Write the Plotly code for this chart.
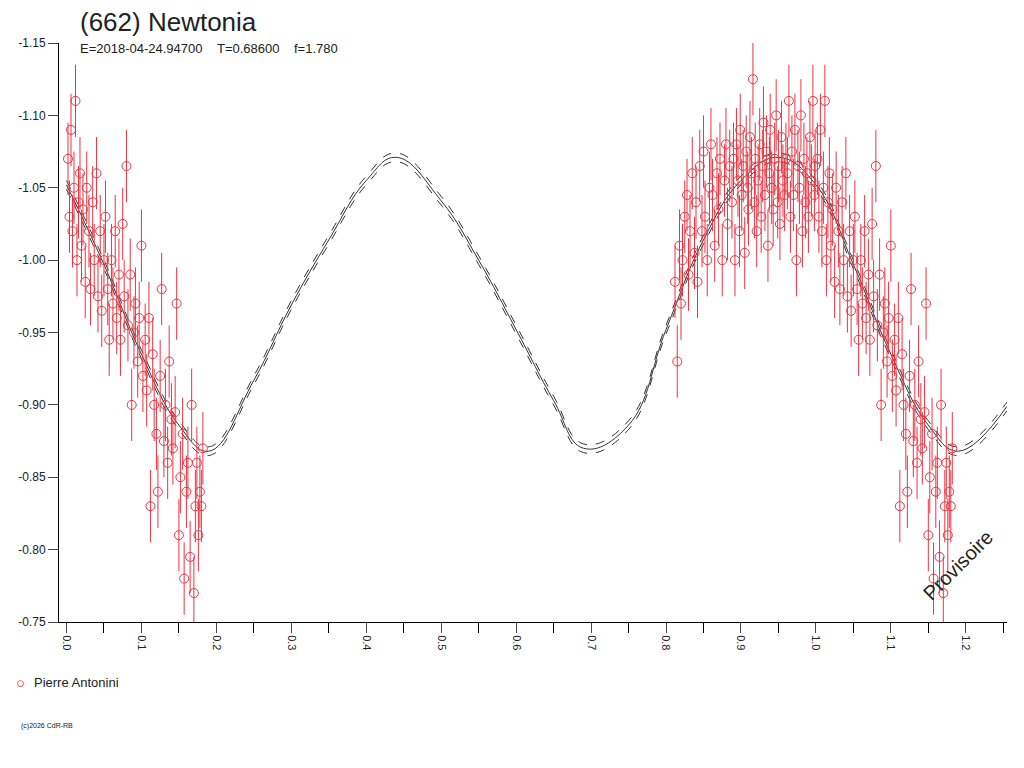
import plotly.graph_objects as go

# Fitted curve samples (phase, mag)
curve_phase = [0.0,0.05,0.1,0.15,0.19,0.25,0.3,0.35,0.4,0.44,0.5,0.55,0.6,0.65,0.69,0.75,0.8,0.85,0.9,0.95,1.0,1.05,1.1,1.15,1.19,1.255]
curve_mag = [-1.052,-0.997,-0.935,-0.886,-0.868,-0.917,-0.969,-1.014,-1.055,-1.071,-1.041,-1.0,-0.952,-0.903,-0.870,-0.886,-0.952,-1.014,-1.055,-1.071,-1.052,-0.997,-0.935,-0.886,-0.868,-0.899]
envelope = 0.003

# Observations (phase, mag)
obs_a_phase = [0.812,0.815,0.818,0.82,0.822,0.825,0.828,0.83,0.832,0.835,0.838,0.84,0.842,0.845,0.848,0.85,0.852,0.855,0.858,0.86,0.862,0.865,0.868,0.87,0.872,0.875,0.878,0.88,0.882,0.885]
obs_a_mag = [-0.985,-0.93,-1.01,-0.97,-1.0,-1.03,-1.045,-0.99,-1.02,-1.06,-1.005,-1.04,-0.985,-1.065,-1.02,-1.075,-1.03,-1.0,-1.05,-1.08,-1.045,-1.01,-1.06,-1.035,-1.07,-1.0,-1.055,-1.08,-1.025,-1.065]
obs_b_phase = [0.888,0.89,0.892,0.894,0.896,0.898,0.899,0.901,0.903,0.905,0.907,0.909,0.91,0.912,0.914,0.916,0.918,0.919,0.921,0.923,0.925,0.927,0.929,0.93,0.932,0.934,0.936,0.938,0.939,0.941,0.943,0.945,0.947,0.949,0.95,0.952,0.954,0.956,0.958,0.96]
obs_b_mag = [-1.04,-1.07,-1.0,-1.08,-1.055,-1.02,-1.09,-1.045,-1.065,-1.005,-1.075,-1.05,-1.035,-1.085,-1.06,-1.125,-1.04,-1.07,-1.02,-1.055,-1.08,-1.03,-1.065,-1.095,-1.045,-1.075,-1.01,-1.06,-1.09,-1.05,-1.035,-1.07,-1.1,-1.04,-1.065,-1.025,-1.085,-1.055,-1.045,-1.07]
obs_c_phase = [0.962,0.964,0.966,0.968,0.970,0.972,0.974,0.976,0.978,0.980,0.982,0.984,0.986,0.988,0.990,0.992,0.994,0.996,0.998,0.999]
obs_c_mag = [-1.06,-1.11,-1.03,-1.075,-1.045,-1.09,-1.0,-1.065,-1.05,-1.1,-1.02,-1.07,-1.04,-1.06,-1.03,-1.085,-1.055,-1.11,-1.045,-1.065]
# points just after phase 0 (drawn at phase and phase+1)
obs_d_phase = [0.002,0.004,0.006,0.008,0.010,0.012,0.014,0.016,0.018,0.020,0.022,0.025,0.027,0.030,0.032,0.035,0.037,0.040,0.042,0.045,0.047,0.050,0.052,0.055,0.057,0.060,0.062,0.065,0.067,0.070,0.072,0.075,0.077,0.080,0.082,0.085,0.087,0.090,0.092,0.095,0.097,0.100,0.102,0.105,0.107,0.110,0.112,0.115,0.117,0.120,0.122,0.125,0.127,0.130,0.132,0.135,0.137,0.140,0.142,0.145,0.147,0.150,0.152,0.155,0.157,0.160,0.162,0.165,0.167,0.170,0.172,0.174,0.176,0.178,0.180,0.182]
obs_d_mag = [-1.07,-1.03,-1.09,-1.02,-1.05,-1.11,-1.0,-1.04,-1.06,-1.01,-1.035,-0.985,-1.05,-1.02,-0.98,-1.04,-1.0,-1.06,-0.975,-1.02,-0.965,-1.0,-1.03,-0.98,-0.945,-1.0,-0.97,-1.02,-0.96,-0.99,-0.945,-1.025,-0.975,-1.065,-0.955,-0.99,-0.9,-0.95,-0.97,-0.93,-0.96,-1.01,-0.92,-0.945,-0.91,-0.96,-0.83,-0.935,-0.9,-0.88,-0.84,-0.92,-0.98,-0.875,-0.9,-0.86,-0.93,-0.89,-0.87,-0.895,-0.97,-0.81,-0.85,-0.88,-0.78,-0.84,-0.86,-0.795,-0.9,-0.77,-0.83,-0.86,-0.81,-0.84,-0.83,-0.87]
obs_err = 0.025
observer = "Pierre Antonini"

red = "#EE3340"
xs = obs_d_phase + obs_a_phase + obs_b_phase + obs_c_phase + [p + 1 for p in obs_d_phase]
ys = obs_d_mag + obs_a_mag + obs_b_mag + obs_c_mag + obs_d_mag

fig = go.Figure()
for off, dash in [(0, "solid"), (envelope, "dash"), (-envelope, "dash")]:
    fig.add_trace(go.Scatter(x=curve_phase, y=[m + off for m in curve_mag], mode="lines",
                             line=dict(color="#333333", width=1, dash=dash, shape="spline", smoothing=1.2),
                             showlegend=False, hoverinfo="skip"))
fig.add_trace(go.Scatter(x=xs, y=ys, mode="markers", name=observer, showlegend=False,
                         marker=dict(symbol="circle-open", size=9, color=red, line=dict(width=1)),
                         error_y=dict(type="constant", value=obs_err, color=red, thickness=1, width=0)))

fig.update_layout(
    width=1024, height=768, paper_bgcolor="white", plot_bgcolor="white",
    margin=dict(l=51, r=25, t=35, b=154),
    font=dict(family="Liberation Sans, Arial", color="#222222"),
    showlegend=False,
)
fig.update_xaxes(range=[-0.01, 1.255], showgrid=False, zeroline=False, showline=True, linecolor="black", automargin=False,
                 tickmode="array", tickvals=[0,0.1,0.2,0.3,0.4,0.5,0.6,0.7,0.8,0.9,1.0,1.1,1.2],
                 ticktext=["0.0","0.1","0.2","0.3","0.4","0.5","0.6","0.7","0.8","0.9","1.0","1.1","1.2"],
                 ticks="outside", ticklen=10, tickangle=90, tickfont=dict(size=11),
                 minor=dict(dtick=0.05, tick0=0.05, ticks="outside", ticklen=10, tickcolor="black"))
fig.update_yaxes(range=[-0.75, -1.15], showgrid=False, zeroline=False, showline=True, linecolor="black", automargin=False,
                 tickvals=[-1.15,-1.10,-1.05,-1.00,-0.95,-0.90,-0.85,-0.80,-0.75],
                 ticktext=["-1.15","-1.10","-1.05","-1.00","-0.95","-0.90","-0.85","-0.80","-0.75"],
                 ticks="outside", ticklen=10, tickfont=dict(size=12))
fig.add_annotation(xref="paper", yref="paper", x=0.02, y=1.0, yshift=4, text="(662) Newtonia", showarrow=False,
                   xanchor="left", yanchor="bottom", font=dict(size=26))
fig.add_annotation(xref="paper", yref="paper", x=0.02, y=1.0, yshift=-5, showarrow=False, xanchor="left", yanchor="middle",
                   text="E=2018-04-24.94700&nbsp;&nbsp;&nbsp;&nbsp;T=0.68600&nbsp;&nbsp;&nbsp;&nbsp;f=1.780", font=dict(size=13))
fig.add_annotation(xref="paper", yref="paper", x=0.993, y=0.025, text="Provisoire", textangle=-45, showarrow=False,
                   font=dict(size=20))
# legend drawn as text
fig.add_annotation(xref="paper", yref="paper", x=-0.041, y=-0.105, text="○", showarrow=False,
                   xanchor="center", yanchor="middle", font=dict(size=15, color=red))
fig.add_annotation(xref="paper", yref="paper", x=-0.029, y=-0.105, text=observer, showarrow=False,
                   xanchor="left", yanchor="middle", font=dict(size=13))
fig.add_annotation(xref="paper", yref="paper", x=-0.042, y=-0.17, text="(c)2026 CdR-RB", showarrow=False,
                   xanchor="left", yanchor="top", font=dict(size=7))
fig.write_html("out.html")
